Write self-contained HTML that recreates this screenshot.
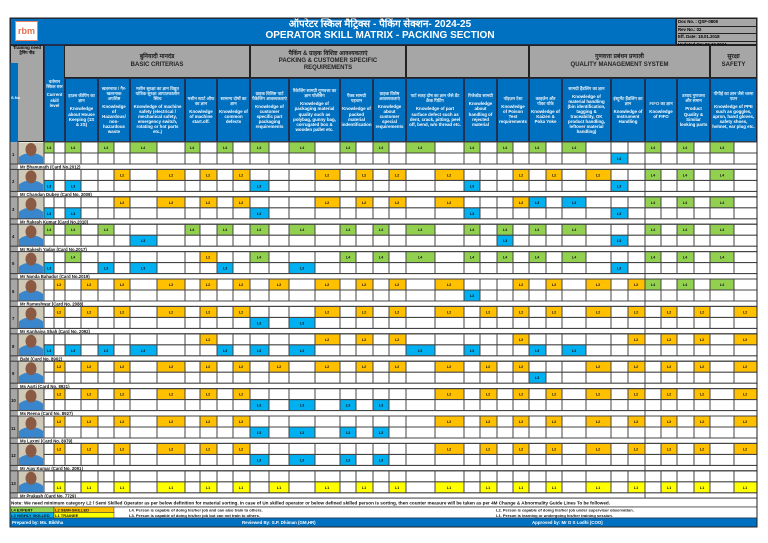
<!DOCTYPE html>
<html><head><meta charset="utf-8"><style>
*{margin:0;padding:0;box-sizing:border-box}
body{width:768px;height:543px;background:#fff;position:relative;overflow:hidden;font-family:"Liberation Sans","Noto Sans CJK SC",sans-serif}
.a{position:absolute}
.hd{position:absolute;background:#0070c0;color:#fff;border:0.8px solid #1f3050;display:flex;flex-direction:column;justify-content:center;align-items:center;text-align:center;font-weight:bold;font-size:4.4px;line-height:1.15;padding:1px;overflow:hidden}
.hd i{font-style:normal;opacity:.85;margin-bottom:3px}
.gh{position:absolute;background:#a6a6a6;color:#222;border:0.8px solid #222;display:flex;flex-direction:column;justify-content:center;align-items:center;text-align:center;font-weight:bold;font-size:6px;line-height:1.2}
svg{position:absolute;left:0;top:0}
.g{fill:#92d050}.o{fill:#ffc000}.b{fill:#00b0f0}.y{fill:#ffff00}
text{font-family:"Liberation Sans",sans-serif;font-weight:bold}
.t text{font-size:3.8px;fill:#111;text-anchor:middle}
.n{font-size:4.3px;fill:#111}
</style></head><body>
<div class="a" style="left:10px;top:18px;width:666px;height:27px;background:#0070c0;border:1px solid #1f3050"></div>
<div class="a" style="left:15px;top:21px;width:23px;height:20px;background:#fff;border:1px solid #f08060;color:#e07050;font-size:9px;font-weight:bold;text-align:center;line-height:19px">rbm</div>
<div class="a" style="left:180px;top:19px;width:400px;text-align:center;color:#fff;font-weight:bold;font-size:10px;line-height:11px">ऑपरेटर स्किल मैट्रिक्स - पैकिंग सेक्शन- 2024-25<br>OPERATOR SKILL MATRIX - PACKING SECTION</div>
<div class="a" style="left:676px;top:18px;width:81px;height:27px;background:#a6a6a6;border:1px solid #222;font-size:4.3px;font-weight:bold;line-height:6.5px;padding-left:1px">
<div style="border-bottom:.6px solid #222">Doc No. : QSF-0808</div><div style="border-bottom:.6px solid #222">Rev No.: 02</div><div style="border-bottom:.6px solid #222">Eff. Date: 18.01.2018</div><div>Updated On: 02.12.2024</div></div>
<div class="a" style="left:10px;top:45px;width:34px;height:97px;background:#a6a6a6;border:0.8px solid #222"></div>
<div class="a" style="left:10px;top:46px;width:34px;font-size:4.3px;font-weight:bold;text-align:center;line-height:4.5px">Training need<br>ट्रेनिंग नीड</div>
<div class="a" style="left:10px;top:63px;width:8px;height:79px;background:#0070c0"></div>
<div class="a" style="left:11px;top:95px;width:6px;color:#fff;font-size:4px;font-weight:bold">S.No</div>
<div class="hd" style="left:44px;top:45px;width:21px;height:97px"><i>वर्तमान स्किल स्तर</i>Current skill level</div>
<div class="gh" style="left:64px;top:45px;width:186px;height:33px"><span>बुनियादी मानदंड</span>BASIC CRITERIAS</div>
<div class="gh" style="left:250px;top:45px;width:156px;height:33px"><span>पैकिंग &amp; ग्राहक विशिष्ट आवश्यकताएं</span>PACKING &amp; CUSTOMER SPECIFIC<br>REQUIREMENTS</div>
<div class="gh" style="left:406px;top:45px;width:123px;height:33px"></div>
<div class="gh" style="left:529px;top:45px;width:181px;height:33px"><span>गुणवत्ता प्रबंधन प्रणाली</span>QUALITY MANAGEMENT SYSTEM</div>
<div class="gh" style="left:710px;top:45px;width:47px;height:33px"><span>सुरक्षा</span>SAFETY</div>
<div class="hd" style="left:65px;top:78px;width:33px;height:64px"><i>हाउस कीपिंग का ज्ञान</i>Knowledge about House Keeping (1S &amp; 2S)</div>
<div class="hd" style="left:98px;top:78px;width:32px;height:64px"><i>खतरनाक / गैर-खतरनाक अपशिष्ट</i>Knowledge of Hazardous/ non-hazardous waste</div>
<div class="hd" style="left:130px;top:78px;width:55px;height:64px"><i>मशीन सुरक्षा का ज्ञान विद्युत यांत्रिक सुरक्षा आपातकालीन स्विच</i>Knowledge of machine safety (electrical / mechanical safety, emergency switch, rotating or hot parts etc.)</div>
<div class="hd" style="left:185px;top:78px;width:32px;height:64px"><i>मशीन स्टार्ट ऑफ का ज्ञान</i>Knowledge of machine start.off.</div>
<div class="hd" style="left:217px;top:78px;width:33px;height:64px"><i>सामान्य दोषों का ज्ञान</i>Knowledge of common defects</div>
<div class="hd" style="left:250px;top:78px;width:39px;height:64px"><i>ग्राहक विशिष्ट पार्ट पैकेजिंग आवश्यकताएं</i>Knowledge of customer specific part packaging requirements</div>
<div class="hd" style="left:289px;top:78px;width:51px;height:64px"><i>पैकेजिंग सामग्री गुणवत्ता का ज्ञान पॉलीबैग</i>Knowledge of packaging material quality such as polybag, gunny bag, corrugated box &amp; wooden pallet etc.</div>
<div class="hd" style="left:340px;top:78px;width:33px;height:64px"><i>पैक्ड सामग्री पहचान</i>Knowledge of packed material indentification</div>
<div class="hd" style="left:373px;top:78px;width:33px;height:64px"><i>ग्राहक विशेष आवश्यकताएं</i>Knowledge about customer special requirements</div>
<div class="hd" style="left:406px;top:78px;width:58px;height:64px"><i>पार्ट सतह दोष का ज्ञान जैसे डेंट क्रैक पिटिंग</i>Knowledge of part surface defect such as dent, crack, pitting, peel off, bend, w/o thread etc.</div>
<div class="hd" style="left:464px;top:78px;width:33px;height:64px"><i>रिजेक्टेड सामग्री</i>Knowledge about handling of rejected material</div>
<div class="hd" style="left:497px;top:78px;width:32px;height:64px"><i>पॉइज़न टेस्ट</i>Knowledge of Poison Test requirements</div>
<div class="hd" style="left:529px;top:78px;width:33px;height:64px"><i>काइज़ेन और पोका योके</i>Knowledge of Kaizen &amp; Poka Yoke</div>
<div class="hd" style="left:562px;top:78px;width:49px;height:64px"><i>सामग्री हैंडलिंग का ज्ञान</i>Knowledge of material handling (bin identification, tagging &amp; traceability, OK product handling, leftover material handling)</div>
<div class="hd" style="left:611px;top:78px;width:34px;height:64px"><i>इंस्ट्रूमेंट हैंडलिंग का ज्ञान</i>Knowledge of Instrument Handling</div>
<div class="hd" style="left:645px;top:78px;width:32px;height:64px"><i>FIFO का ज्ञान</i>Knowledge of FIFO</div>
<div class="hd" style="left:677px;top:78px;width:33px;height:64px"><i>उत्पाद गुणवत्ता और समान</i>Product Quality &amp; Similar looking parts</div>
<div class="hd" style="left:710px;top:78px;width:47px;height:64px"><i>पीपीई का ज्ञान जैसे चश्मा एप्रन</i>Knowledge of PPE such as goggles, apron, hand gloves, safety shoes, helmet, ear plug etc.</div>

<svg width="768" height="543" viewBox="0 0 768 543">
<defs>
<g id="v" stroke="#444" stroke-width="1">
<path d="M44 0V22M54 0V22M65 0V22M81 0V22M98 0V22M114 0V22M130 0V22M157 0V22M185 0V22M200 0V22M217 0V22M233 0V22M250 0V22M269 0V22M289 0V22M315 0V22M340 0V22M356 0V22M373 0V22M389 0V22M406 0V22M435 0V22M464 0V22M480 0V22M497 0V22M513 0V22M529 0V22M546 0V22M562 0V22M586 0V22M611 0V22M628 0V22M645 0V27.4M661 0V22M677 0V22M694 0V22M710 0V22M734 0V22M757 0V27.4M10 0V27.4M18 0V22"/>
<path d="M44 0H757M44 11H757M10 22H757M10 27.4H757" stroke-width="1.1"/>
</g>
<g id="ph">
<rect x="18.5" y="0.5" width="25" height="21" fill="#cfc9b8"/>
<path d="M19 22V15Q24 11 31 11Q38 11 43 15V22Z" fill="#3a86cc"/>
<ellipse cx="31" cy="7.5" rx="5.5" ry="6.5" fill="#8a5a44"/>
</g>
<g id="lft"><rect x="10" y="0" width="8" height="27.4" fill="#a6a6a6"/></g>
</defs>
<g>
<g transform="translate(0,142)"><use href="#lft"/><use href="#ph"/></g>
<g transform="translate(0,169.4)"><use href="#lft"/><use href="#ph"/></g>
<g transform="translate(0,196.8)"><use href="#lft"/><use href="#ph"/></g>
<g transform="translate(0,224.2)"><use href="#lft"/><use href="#ph"/></g>
<g transform="translate(0,251.6)"><use href="#lft"/><use href="#ph"/></g>
<g transform="translate(0,279)"><use href="#lft"/><use href="#ph"/></g>
<g transform="translate(0,306.4)"><use href="#lft"/><use href="#ph"/></g>
<g transform="translate(0,333.8)"><use href="#lft"/><use href="#ph"/></g>
<g transform="translate(0,361.2)"><use href="#lft"/><use href="#ph"/></g>
<g transform="translate(0,388.6)"><use href="#lft"/><use href="#ph"/></g>
<g transform="translate(0,416)"><use href="#lft"/><use href="#ph"/></g>
<g transform="translate(0,443.4)"><use href="#lft"/><use href="#ph"/></g>
<g transform="translate(0,470.8)"><use href="#lft"/><use href="#ph"/></g>
</g>
<!-- name strip backgrounds -->
<g fill="#fff">
<rect x="18" y="164" width="739" height="5.4"/><rect x="18" y="191.4" width="739" height="5.4"/><rect x="18" y="218.8" width="739" height="5.4"/><rect x="18" y="246.2" width="739" height="5.4"/><rect x="18" y="273.6" width="739" height="5.4"/><rect x="18" y="301" width="739" height="5.4"/><rect x="18" y="328.4" width="739" height="5.4"/><rect x="18" y="355.8" width="739" height="5.4"/><rect x="18" y="383.2" width="739" height="5.4"/><rect x="18" y="410.6" width="739" height="5.4"/><rect x="18" y="438" width="739" height="5.4"/><rect x="18" y="465.4" width="739" height="5.4"/><rect x="18" y="492.8" width="739" height="5.4"/>
</g>

<g class="t" transform="translate(0,142)">
<rect class="g" x="44" width="10" height="11"/><text x="49" y="7">L4</text>
<rect class="g" x="65" width="16" height="11"/><text x="73" y="7">L4</text>
<rect class="g" x="98" width="16" height="11"/><text x="106" y="7">L4</text>
<rect class="g" x="130" width="27" height="11"/><text x="143" y="7">L4</text>
<rect class="g" x="185" width="15" height="11"/><text x="192" y="7">L4</text>
<rect class="g" x="217" width="16" height="11"/><text x="225" y="7">L4</text>
<rect class="g" x="250" width="19" height="11"/><text x="259" y="7">L4</text>
<rect class="g" x="289" width="26" height="11"/><text x="302" y="7">L4</text>
<rect class="g" x="340" width="16" height="11"/><text x="348" y="7">L4</text>
<rect class="g" x="373" width="16" height="11"/><text x="381" y="7">L4</text>
<rect class="g" x="406" width="29" height="11"/><text x="420" y="7">L4</text>
<rect class="g" x="464" width="16" height="11"/><text x="472" y="7">L4</text>
<rect class="g" x="497" width="16" height="11"/><text x="505" y="7">L4</text>
<rect class="g" x="529" width="17" height="11"/><text x="537" y="7">L4</text>
<rect class="g" x="562" width="24" height="11"/><text x="574" y="7">L4</text>
<rect class="g" x="645" width="16" height="11"/><text x="653" y="7">L4</text>
<rect class="g" x="677" width="17" height="11"/><text x="685" y="7">L4</text>
<rect class="g" x="710" width="24" height="11"/><text x="722" y="7">L4</text>
<rect class="b" x="611" y="11" width="17" height="11"/><text x="619" y="18">L3</text>
</g>
<g class="t" transform="translate(0,169.4)">
<rect class="o" x="114" width="16" height="11"/><text x="122" y="7">L2</text>
<rect class="o" x="157" width="28" height="11"/><text x="171" y="7">L2</text>
<rect class="o" x="200" width="17" height="11"/><text x="208" y="7">L2</text>
<rect class="o" x="233" width="17" height="11"/><text x="241" y="7">L2</text>
<rect class="o" x="315" width="25" height="11"/><text x="327" y="7">L2</text>
<rect class="o" x="356" width="17" height="11"/><text x="364" y="7">L2</text>
<rect class="o" x="389" width="17" height="11"/><text x="397" y="7">L2</text>
<rect class="o" x="435" width="29" height="11"/><text x="449" y="7">L2</text>
<rect class="o" x="513" width="16" height="11"/><text x="521" y="7">L2</text>
<rect class="o" x="546" width="16" height="11"/><text x="554" y="7">L2</text>
<rect class="o" x="586" width="25" height="11"/><text x="598" y="7">L2</text>
<rect class="g" x="645" width="16" height="11"/><text x="653" y="7">L4</text>
<rect class="g" x="677" width="17" height="11"/><text x="685" y="7">L4</text>
<rect class="g" x="710" width="24" height="11"/><text x="722" y="7">L4</text>
<rect class="b" x="44" y="11" width="10" height="11"/><text x="49" y="18">L3</text>
<rect class="b" x="65" y="11" width="16" height="11"/><text x="73" y="18">L3</text>
<rect class="b" x="250" y="11" width="19" height="11"/><text x="259" y="18">L3</text>
<rect class="b" x="464" y="11" width="16" height="11"/><text x="472" y="18">L3</text>
<rect class="b" x="611" y="11" width="17" height="11"/><text x="619" y="18">L3</text>
</g>
<g class="t" transform="translate(0,196.8)">
<rect class="o" x="114" width="16" height="11"/><text x="122" y="7">L2</text>
<rect class="o" x="157" width="28" height="11"/><text x="171" y="7">L2</text>
<rect class="o" x="200" width="17" height="11"/><text x="208" y="7">L2</text>
<rect class="o" x="233" width="17" height="11"/><text x="241" y="7">L2</text>
<rect class="o" x="315" width="25" height="11"/><text x="327" y="7">L2</text>
<rect class="o" x="356" width="17" height="11"/><text x="364" y="7">L2</text>
<rect class="o" x="389" width="17" height="11"/><text x="397" y="7">L2</text>
<rect class="o" x="435" width="29" height="11"/><text x="449" y="7">L2</text>
<rect class="o" x="513" width="16" height="11"/><text x="521" y="7">L2</text>
<rect class="b" x="529" width="17" height="11"/><text x="537" y="7">L3</text>
<rect class="b" x="562" width="24" height="11"/><text x="574" y="7">L3</text>
<rect class="g" x="645" width="16" height="11"/><text x="653" y="7">L4</text>
<rect class="g" x="677" width="17" height="11"/><text x="685" y="7">L4</text>
<rect class="g" x="710" width="24" height="11"/><text x="722" y="7">L4</text>
<rect class="b" x="44" y="11" width="10" height="11"/><text x="49" y="18">L3</text>
<rect class="b" x="65" y="11" width="16" height="11"/><text x="73" y="18">L3</text>
<rect class="b" x="250" y="11" width="19" height="11"/><text x="259" y="18">L3</text>
<rect class="b" x="464" y="11" width="16" height="11"/><text x="472" y="18">L3</text>
<rect class="b" x="611" y="11" width="17" height="11"/><text x="619" y="18">L3</text>
</g>
<g class="t" transform="translate(0,224.2)">
<rect class="g" x="44" width="10" height="11"/><text x="49" y="7">L4</text>
<rect class="g" x="65" width="16" height="11"/><text x="73" y="7">L4</text>
<rect class="g" x="98" width="16" height="11"/><text x="106" y="7">L4</text>
<rect class="g" x="185" width="15" height="11"/><text x="192" y="7">L4</text>
<rect class="g" x="217" width="16" height="11"/><text x="225" y="7">L4</text>
<rect class="g" x="250" width="19" height="11"/><text x="259" y="7">L4</text>
<rect class="g" x="289" width="26" height="11"/><text x="302" y="7">L4</text>
<rect class="g" x="340" width="16" height="11"/><text x="348" y="7">L4</text>
<rect class="g" x="373" width="16" height="11"/><text x="381" y="7">L4</text>
<rect class="g" x="406" width="29" height="11"/><text x="420" y="7">L4</text>
<rect class="g" x="464" width="16" height="11"/><text x="472" y="7">L4</text>
<rect class="g" x="497" width="16" height="11"/><text x="505" y="7">L4</text>
<rect class="g" x="529" width="17" height="11"/><text x="537" y="7">L4</text>
<rect class="g" x="562" width="24" height="11"/><text x="574" y="7">L4</text>
<rect class="g" x="645" width="16" height="11"/><text x="653" y="7">L4</text>
<rect class="g" x="677" width="17" height="11"/><text x="685" y="7">L4</text>
<rect class="g" x="710" width="24" height="11"/><text x="722" y="7">L4</text>
<rect class="b" x="130" y="11" width="27" height="11"/><text x="143" y="18">L3</text>
<rect class="b" x="497" y="11" width="16" height="11"/><text x="505" y="18">L3</text>
<rect class="b" x="611" y="11" width="17" height="11"/><text x="619" y="18">L3</text>
</g>
<g class="t" transform="translate(0,251.6)">
<rect class="g" x="65" width="16" height="11"/><text x="73" y="7">L4</text>
<rect class="o" x="200" width="17" height="11"/><text x="208" y="7">L2</text>
<rect class="g" x="250" width="19" height="11"/><text x="259" y="7">L4</text>
<rect class="g" x="340" width="16" height="11"/><text x="348" y="7">L4</text>
<rect class="g" x="373" width="16" height="11"/><text x="381" y="7">L4</text>
<rect class="g" x="406" width="29" height="11"/><text x="420" y="7">L4</text>
<rect class="g" x="464" width="16" height="11"/><text x="472" y="7">L4</text>
<rect class="g" x="497" width="16" height="11"/><text x="505" y="7">L4</text>
<rect class="g" x="529" width="17" height="11"/><text x="537" y="7">L4</text>
<rect class="g" x="562" width="24" height="11"/><text x="574" y="7">L4</text>
<rect class="g" x="645" width="16" height="11"/><text x="653" y="7">L4</text>
<rect class="g" x="677" width="17" height="11"/><text x="685" y="7">L4</text>
<rect class="g" x="710" width="24" height="11"/><text x="722" y="7">L4</text>
<rect class="b" x="44" y="11" width="10" height="11"/><text x="49" y="18">L3</text>
<rect class="b" x="98" y="11" width="16" height="11"/><text x="106" y="18">L3</text>
<rect class="b" x="130" y="11" width="27" height="11"/><text x="143" y="18">L3</text>
<rect class="b" x="217" y="11" width="16" height="11"/><text x="225" y="18">L3</text>
<rect class="b" x="289" y="11" width="26" height="11"/><text x="302" y="18">L3</text>
<rect class="b" x="611" y="11" width="17" height="11"/><text x="619" y="18">L3</text>
</g>
<g class="t" transform="translate(0,279)">
<rect class="o" x="54" width="11" height="11"/><text x="59" y="7">L2</text>
<rect class="o" x="81" width="17" height="11"/><text x="89" y="7">L2</text>
<rect class="o" x="114" width="16" height="11"/><text x="122" y="7">L2</text>
<rect class="o" x="157" width="28" height="11"/><text x="171" y="7">L2</text>
<rect class="o" x="200" width="17" height="11"/><text x="208" y="7">L2</text>
<rect class="o" x="233" width="17" height="11"/><text x="241" y="7">L2</text>
<rect class="o" x="269" width="20" height="11"/><text x="279" y="7">L2</text>
<rect class="o" x="315" width="25" height="11"/><text x="327" y="7">L2</text>
<rect class="o" x="356" width="17" height="11"/><text x="364" y="7">L2</text>
<rect class="o" x="389" width="17" height="11"/><text x="397" y="7">L2</text>
<rect class="o" x="435" width="29" height="11"/><text x="449" y="7">L2</text>
<rect class="o" x="513" width="16" height="11"/><text x="521" y="7">L2</text>
<rect class="o" x="546" width="16" height="11"/><text x="554" y="7">L2</text>
<rect class="o" x="586" width="25" height="11"/><text x="598" y="7">L2</text>
<rect class="o" x="628" width="17" height="11"/><text x="636" y="7">L2</text>
<rect class="g" x="645" width="16" height="11"/><text x="653" y="7">L4</text>
<rect class="g" x="677" width="17" height="11"/><text x="685" y="7">L4</text>
<rect class="g" x="710" width="24" height="11"/><text x="722" y="7">L4</text>
<rect class="b" x="464" y="11" width="16" height="11"/><text x="472" y="18">L3</text>
</g>
<g class="t" transform="translate(0,306.4)">
<rect class="o" x="54" width="11" height="11"/><text x="59" y="7">L2</text>
<rect class="o" x="81" width="17" height="11"/><text x="89" y="7">L2</text>
<rect class="o" x="114" width="16" height="11"/><text x="122" y="7">L2</text>
<rect class="o" x="157" width="28" height="11"/><text x="171" y="7">L2</text>
<rect class="o" x="200" width="17" height="11"/><text x="208" y="7">L2</text>
<rect class="o" x="233" width="17" height="11"/><text x="241" y="7">L2</text>
<rect class="o" x="315" width="25" height="11"/><text x="327" y="7">L2</text>
<rect class="o" x="356" width="17" height="11"/><text x="364" y="7">L2</text>
<rect class="o" x="389" width="17" height="11"/><text x="397" y="7">L2</text>
<rect class="o" x="435" width="29" height="11"/><text x="449" y="7">L2</text>
<rect class="o" x="480" width="17" height="11"/><text x="488" y="7">L2</text>
<rect class="o" x="513" width="16" height="11"/><text x="521" y="7">L2</text>
<rect class="o" x="546" width="16" height="11"/><text x="554" y="7">L2</text>
<rect class="o" x="586" width="25" height="11"/><text x="598" y="7">L2</text>
<rect class="o" x="628" width="17" height="11"/><text x="636" y="7">L2</text>
<rect class="o" x="661" width="16" height="11"/><text x="669" y="7">L2</text>
<rect class="o" x="694" width="16" height="11"/><text x="702" y="7">L2</text>
<rect class="o" x="734" width="23" height="11"/><text x="745" y="7">L2</text>
<rect class="b" x="250" y="11" width="19" height="11"/><text x="259" y="18">L3</text>
<rect class="b" x="289" y="11" width="26" height="11"/><text x="302" y="18">L3</text>
</g>
<g class="t" transform="translate(0,333.8)">
<rect class="o" x="200" width="17" height="11"/><text x="208" y="7">L2</text>
<rect class="o" x="315" width="25" height="11"/><text x="327" y="7">L2</text>
<rect class="o" x="356" width="17" height="11"/><text x="364" y="7">L2</text>
<rect class="o" x="389" width="17" height="11"/><text x="397" y="7">L2</text>
<rect class="o" x="513" width="16" height="11"/><text x="521" y="7">L2</text>
<rect class="o" x="628" width="17" height="11"/><text x="636" y="7">L2</text>
<rect class="o" x="661" width="16" height="11"/><text x="669" y="7">L2</text>
<rect class="o" x="694" width="16" height="11"/><text x="702" y="7">L2</text>
<rect class="o" x="734" width="23" height="11"/><text x="745" y="7">L2</text>
<rect class="b" x="44" y="11" width="10" height="11"/><text x="49" y="18">L3</text>
<rect class="b" x="65" y="11" width="16" height="11"/><text x="73" y="18">L3</text>
<rect class="b" x="98" y="11" width="16" height="11"/><text x="106" y="18">L3</text>
<rect class="b" x="130" y="11" width="27" height="11"/><text x="143" y="18">L3</text>
<rect class="b" x="217" y="11" width="16" height="11"/><text x="225" y="18">L3</text>
<rect class="b" x="250" y="11" width="19" height="11"/><text x="259" y="18">L3</text>
<rect class="b" x="289" y="11" width="26" height="11"/><text x="302" y="18">L3</text>
<rect class="b" x="406" y="11" width="29" height="11"/><text x="420" y="18">L3</text>
<rect class="b" x="464" y="11" width="16" height="11"/><text x="472" y="18">L3</text>
<rect class="b" x="529" y="11" width="17" height="11"/><text x="537" y="18">L3</text>
<rect class="b" x="562" y="11" width="24" height="11"/><text x="574" y="18">L3</text>
</g>
<g class="t" transform="translate(0,361.2)">
<rect class="o" x="54" width="11" height="11"/><text x="59" y="7">L2</text>
<rect class="o" x="81" width="17" height="11"/><text x="89" y="7">L2</text>
<rect class="o" x="114" width="16" height="11"/><text x="122" y="7">L2</text>
<rect class="o" x="157" width="28" height="11"/><text x="171" y="7">L2</text>
<rect class="o" x="200" width="17" height="11"/><text x="208" y="7">L2</text>
<rect class="o" x="233" width="17" height="11"/><text x="241" y="7">L2</text>
<rect class="o" x="269" width="20" height="11"/><text x="279" y="7">L2</text>
<rect class="o" x="315" width="25" height="11"/><text x="327" y="7">L2</text>
<rect class="o" x="356" width="17" height="11"/><text x="364" y="7">L2</text>
<rect class="o" x="389" width="17" height="11"/><text x="397" y="7">L2</text>
<rect class="o" x="435" width="29" height="11"/><text x="449" y="7">L2</text>
<rect class="o" x="480" width="17" height="11"/><text x="488" y="7">L2</text>
<rect class="o" x="513" width="16" height="11"/><text x="521" y="7">L2</text>
<rect class="o" x="586" width="25" height="11"/><text x="598" y="7">L2</text>
<rect class="o" x="628" width="17" height="11"/><text x="636" y="7">L2</text>
<rect class="o" x="661" width="16" height="11"/><text x="669" y="7">L2</text>
<rect class="o" x="694" width="16" height="11"/><text x="702" y="7">L2</text>
<rect class="o" x="734" width="23" height="11"/><text x="745" y="7">L2</text>
<rect class="b" x="529" y="11" width="17" height="11"/><text x="537" y="18">L3</text>
</g>
<g id="o10" class="t" transform="translate(0,388.6)">
<rect class="o" x="54" width="11" height="11"/><text x="59" y="7">L2</text>
<rect class="o" x="81" width="17" height="11"/><text x="89" y="7">L2</text>
<rect class="o" x="114" width="16" height="11"/><text x="122" y="7">L2</text>
<rect class="o" x="157" width="28" height="11"/><text x="171" y="7">L2</text>
<rect class="o" x="200" width="17" height="11"/><text x="208" y="7">L2</text>
<rect class="o" x="233" width="17" height="11"/><text x="241" y="7">L2</text>
<rect class="o" x="435" width="29" height="11"/><text x="449" y="7">L2</text>
<rect class="o" x="480" width="17" height="11"/><text x="488" y="7">L2</text>
<rect class="o" x="513" width="16" height="11"/><text x="521" y="7">L2</text>
<rect class="o" x="546" width="16" height="11"/><text x="554" y="7">L2</text>
<rect class="o" x="586" width="25" height="11"/><text x="598" y="7">L2</text>
<rect class="o" x="628" width="17" height="11"/><text x="636" y="7">L2</text>
<rect class="o" x="661" width="16" height="11"/><text x="669" y="7">L2</text>
<rect class="o" x="694" width="16" height="11"/><text x="702" y="7">L2</text>
<rect class="o" x="734" width="23" height="11"/><text x="745" y="7">L2</text>
<rect class="b" x="250" y="11" width="19" height="11"/><text x="259" y="18">L3</text>
<rect class="b" x="289" y="11" width="26" height="11"/><text x="302" y="18">L3</text>
<rect class="b" x="340" y="11" width="16" height="11"/><text x="348" y="18">L3</text>
<rect class="b" x="373" y="11" width="16" height="11"/><text x="381" y="18">L3</text>
</g>
<use href="#o10" transform="translate(0,27.4)"/>
<use href="#o10" transform="translate(0,54.8)"/>
<g class="t" transform="translate(0,481.8)">
<rect class="y" x="54" width="11" height="11"/><text x="59" y="7">L1</text>
<rect class="y" x="81" width="17" height="11"/><text x="89" y="7">L1</text>
<rect class="y" x="114" width="16" height="11"/><text x="122" y="7">L1</text>
<rect class="y" x="157" width="28" height="11"/><text x="171" y="7">L1</text>
<rect class="y" x="200" width="17" height="11"/><text x="208" y="7">L1</text>
<rect class="y" x="233" width="17" height="11"/><text x="241" y="7">L1</text>
<rect class="y" x="269" width="20" height="11"/><text x="279" y="7">L1</text>
<rect class="y" x="315" width="25" height="11"/><text x="327" y="7">L1</text>
<rect class="y" x="356" width="17" height="11"/><text x="364" y="7">L1</text>
<rect class="y" x="389" width="17" height="11"/><text x="397" y="7">L1</text>
<rect class="y" x="435" width="29" height="11"/><text x="449" y="7">L1</text>
<rect class="y" x="480" width="17" height="11"/><text x="488" y="7">L1</text>
<rect class="y" x="513" width="16" height="11"/><text x="521" y="7">L1</text>
<rect class="y" x="546" width="16" height="11"/><text x="554" y="7">L1</text>
<rect class="y" x="586" width="25" height="11"/><text x="598" y="7">L1</text>
<rect class="y" x="628" width="17" height="11"/><text x="636" y="7">L1</text>
<rect class="y" x="661" width="16" height="11"/><text x="669" y="7">L1</text>
<rect class="y" x="694" width="16" height="11"/><text x="702" y="7">L1</text>
<rect class="y" x="734" width="23" height="11"/><text x="745" y="7">L1</text>
</g>

<use href="#v" y="142"/><use href="#v" y="169.4"/><use href="#v" y="196.8"/><use href="#v" y="224.2"/>
<use href="#v" y="251.6"/><use href="#v" y="279"/><use href="#v" y="306.4"/><use href="#v" y="333.8"/>
<use href="#v" y="361.2"/><use href="#v" y="388.6"/><use href="#v" y="416"/><use href="#v" y="443.4"/><use href="#v" y="470.8"/>

<g class="n">
<text x="12" y="156">1</text><text x="12" y="183">2</text><text x="12" y="211">3</text><text x="12" y="238">4</text><text x="12" y="265">5</text><text x="12" y="293">6</text><text x="12" y="320">7</text><text x="12" y="348">8</text><text x="12" y="375">9</text><text x="11" y="402">10</text><text x="11" y="430">11</text><text x="11" y="457">12</text><text x="11" y="485">13</text>
<text x="20" y="168.6">Mr Bhanunath (Card No.2012)</text>
<text x="20" y="196">Mr Chandan Dubey (Card No. 2009)</text>
<text x="20" y="223.4">Mr Rakesh Kumar (Card No.2010)</text>
<text x="20" y="250.8">Mr Rakesh Yadav (Card No.2017)</text>
<text x="20" y="278.2">Mr Nanda Bahadur (Card No.2019)</text>
<text x="20" y="305.6">Mr Rameshwar (Card No. 2088)</text>
<text x="20" y="333">Mr Kanhaiya Shah (Card No. 2092)</text>
<text x="20" y="360.4">Babi (Card No. 8902)</text>
<text x="20" y="387.8">Ms Aarti (Card No. 8921)</text>
<text x="20" y="415.2">Ms Reena (Card No. 8927)</text>
<text x="20" y="442.6">Ms Laxmi (Card No. 8979)</text>
<text x="20" y="470">Mr Ajay Kumar (Card No. 2091)</text>
<text x="20" y="497.4">Mr Prakash (Card No. 7729)</text>
</g>

<rect x="10" y="498.2" width="747" height="8.8" fill="#fff" stroke="#333" stroke-width="0.7"/>
<text x="11" y="504.5" style="font-size:4.6px;fill:#111">Note: We need minimum category L2 / Semi Skilled Operator as per below definition for material sorting. In case of Un skilled operator or below defined skilled person is sorting, then counter measure will be taken as per 4M Change &amp; Abnormality Guide Lines To be followed.</text>
<rect x="10" y="507" width="747" height="11" fill="#fff" stroke="#333" stroke-width="0.7"/>
<rect x="10" y="507" width="44" height="5.5" fill="#92d050" stroke="#333" stroke-width="0.5"/>
<rect x="54" y="507" width="60" height="5.5" fill="#ffc000" stroke="#333" stroke-width="0.5"/>
<rect x="10" y="512.5" width="44" height="5.5" fill="#00b0f0" stroke="#333" stroke-width="0.5"/>
<rect x="54" y="512.5" width="60" height="5.5" fill="#ffff00" stroke="#333" stroke-width="0.5"/>
<g style="font-size:4px;fill:#111">
<text x="11" y="511.5">L4 EXPERT</text><text x="55" y="511.5">L2 SEMI-SKILLED</text>
<text x="11" y="517">L3 HIGHLY SKILLED</text><text x="55" y="517">L1 TRAINEE</text>
<text x="129" y="511.5">L4. Person is capable of doing his/her job and can also train to others.</text>
<text x="129" y="517">L3. Person is capable of doing his/her job but can not train to others.</text>
<text x="496" y="511.5">L2. Person is capable of doing his/her job under supervisor observation.</text>
<text x="496" y="517">L1. Person is learning or undergoing his/her training session.</text>
</g>
<rect x="10" y="518" width="747" height="9" fill="#0070c0" stroke="#1f3050" stroke-width="0.7"/>
<g style="font-size:4.4px;fill:#fff">
<text x="12" y="524">Prepared by:  Ms. Bikhha</text>
<text x="242" y="524">Reviewed By: S.P. Dhiman (GM,HR)</text>
<text x="532" y="524">Approved by: Mr D S Lodhi (COO)</text>
</g>
<rect x="10" y="18" width="747" height="509" fill="none" stroke="#222" stroke-width="1"/>
</svg>
</body></html>
